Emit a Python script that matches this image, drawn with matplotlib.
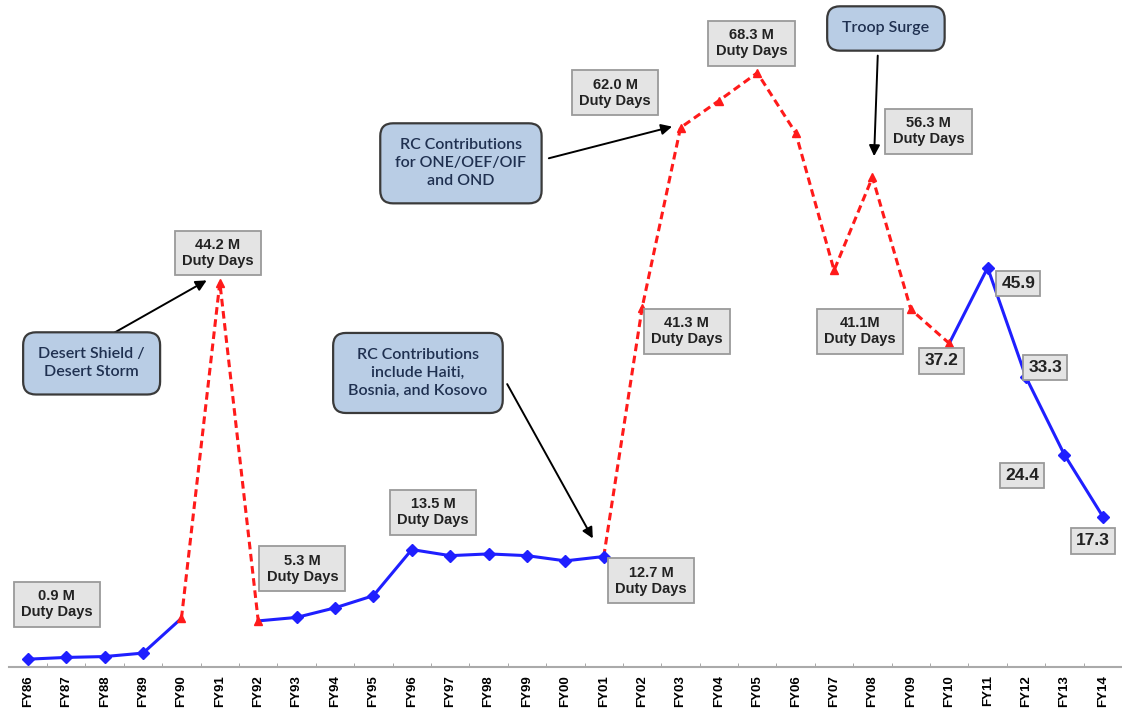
import matplotlib.pyplot as plt

plt.rcParams['font.family'] = ['Liberation Sans', 'DejaVu Sans']

years = ['FY86', 'FY87', 'FY88', 'FY89', 'FY90', 'FY91', 'FY92', 'FY93', 'FY94', 'FY95',
         'FY96', 'FY97', 'FY98', 'FY99', 'FY00', 'FY01', 'FY02', 'FY03', 'FY04', 'FY05',
         'FY06', 'FY07', 'FY08', 'FY09', 'FY10', 'FY11', 'FY12', 'FY13', 'FY14']
duty_days = [0.9, 1.1, 1.2, 1.6, 5.6, 44.2, 5.3, 5.7, 6.8, 8.2,
             13.5, 12.8, 13.0, 12.8, 12.2, 12.7, 41.3, 62.0, 65.1, 68.3,
             61.4, 45.6, 56.3, 41.1, 37.2, 45.9, 33.3, 24.4, 17.3]
# which stretches are contingency (red dashed) vs normal (blue solid)
blue_runs = [(0, 4), (6, 15), (24, 28)]
red_runs = [(4, 6), (15, 24)]

# value labels: (index, text, label x, label y)
value_labels = [
    (0, '0.9 M\nDuty Days', 0.75, 7.2),
    (5, '44.2 M\nDuty Days', 4.95, 47.6),
    (6, '5.3 M\nDuty Days', 7.15, 11.3),
    (10, '13.5 M\nDuty Days', 10.55, 17.8),
    (15, '12.7 M\nDuty Days', 16.23, 9.9),
    (16, '41.3 M\nDuty Days', 17.16, 38.6),
    (17, '62.0 M\nDuty Days', 15.3, 66.0),
    (19, '68.3 M\nDuty Days', 18.85, 71.7),
    (22, '56.3 M\nDuty Days', 23.46, 61.6),
    (23, '41.1M\nDuty Days', 21.67, 38.6),
]
short_labels = [
    ('37.2', 23.8, 35.2),
    ('45.9', 25.8, 44.1),
    ('33.3', 26.5, 34.4),
    ('24.4', 25.9, 22.0),
    ('17.3', 27.74, 14.5),
]
# callouts: text, box center, arrow start, arrow tip
callouts = [
    ('Desert Shield /\nDesert Storm', (1.66, 34.9), (2.2, 38.3), (4.72, 44.6)),
    ('RC Contributions\ninclude Haiti,\nBosnia, and Kosovo', (10.16, 33.8), (12.45, 32.8), (14.75, 14.5)),
    ('RC Contributions\nfor ONE/OEF/OIF\nand OND', (11.28, 57.9), (13.5, 58.4), (16.85, 62.2)),
    ('Troop Surge', (22.35, 73.4), (22.14, 70.6), (22.04, 58.4)),
]

fig = plt.figure(figsize=(11.22, 7.15), dpi=100)
ax = fig.add_axes([8.7 / 1122, 1 - 667 / 715, 1 - 8.7 / 1122, 662 / 715])
x = list(range(len(years)))

for a, b in blue_runs:
    ax.plot(x[a:b + 1], duty_days[a:b + 1], color='#1f1fff', lw=2.2, zorder=3)
for a, b in red_runs:
    ax.plot(x[a:b + 1], duty_days[a:b + 1], color='#ff1a1a', lw=2.2, ls=(0, (2.5, 1.5)), zorder=3)

red_idx = [4, 5, 6] + list(range(16, 25))
blue_idx = [i for i in x if i not in red_idx]
ax.plot([x[i] for i in blue_idx], [duty_days[i] for i in blue_idx], 'D', color='#1f1fff', ms=6.5, ls='none', zorder=4)
ax.plot([x[i] for i in red_idx], [duty_days[i] for i in red_idx], '^', color='#ff1a1a', ms=5.5, ls='none', zorder=4)

gray_box = dict(boxstyle='square,pad=0.5', fc='#e4e4e4', ec='#9a9a9a', lw=1.3)
for i, txt, lx, ly in value_labels:
    ax.text(lx, ly, txt, ha='center', va='center', fontsize=10.5, fontweight='bold',
            color='#222222', bbox=gray_box, linespacing=1.2, zorder=5)
for txt, lx, ly in short_labels:
    ax.text(lx, ly, txt, ha='center', va='center', fontsize=12.5, fontweight='bold',
            color='#222222', bbox=dict(boxstyle='square,pad=0.3', fc='#e4e4e4', ec='#9a9a9a', lw=1.3), zorder=5)

blue_box = dict(boxstyle='round,pad=0.95,rounding_size=0.8', fc='#b9cde5', ec='#3a3a3a', lw=1.6)
for txt, (cx, cy), start, tip in callouts:
    ax.annotate('', xy=tip, xytext=start,
                arrowprops=dict(arrowstyle='-|>', color='black', lw=1.4, mutation_scale=16), zorder=4)
    ax.text(cx, cy, txt, ha='center', va='center', fontsize=11.5, color='#1f3050',
            family=['Lato', 'DejaVu Sans'], fontweight='semibold', bbox=blue_box, linespacing=1.35, zorder=6)

ax.set_xlim(-0.5, 28.37)
ax.set_ylim(0, 76.1)
ax.set_xticks(x)
ax.set_xticklabels(years, rotation=90, fontsize=9.5, fontweight='bold')
ax.tick_params(axis='x', length=0, pad=6)
ax.set_xticks([i + 0.5 for i in x], minor=True)
ax.tick_params(axis='x', which='minor', length=3, color='#999999', direction='in')
ax.set_yticks([])
for s in ['top', 'right', 'left']:
    ax.spines[s].set_visible(False)
ax.spines['bottom'].set_color('#aaaaaa')
ax.spines['bottom'].set_linewidth(1.5)

plt.savefig('out.png', dpi=100)
